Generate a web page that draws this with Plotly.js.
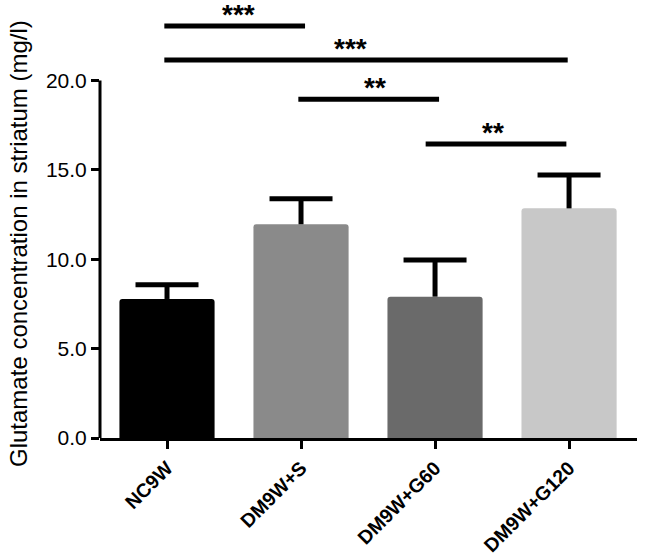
<!DOCTYPE html>
<html>
<head>
<meta charset="utf-8">
<script src="https://cdn.plot.ly/plotly-3.0.1.min.js"></script>
<style>html,body{margin:0;padding:0;background:#fff;}#chart{width:646px;height:557px;}</style>
</head>
<body>
<div id="chart"></div>
<script>
// ---- data ----
const categories = ["NC9W", "DM9W+S", "DM9W+G60", "DM9W+G120"];
const means = [7.78, 11.96, 7.91, 12.85];
const errors = [0.80, 1.43, 2.05, 1.87];
const barColors = ["#000000", "#8a8a8a", "#6a6a6a", "#c8c8c8"];
const yTickVals = [0, 5, 10, 15, 20];
const yTickText = ["0.0", "5.0", "10.0", "15.0", "20.0"];
const yTitle = "Glutamate concentration in striatum (mg/l)";
// significance brackets (x in category index units, y in data units)
const sigStart = [-0.02, -0.02, 0.98, 1.93];
const sigEnd = [1.03, 2.99, 2.03, 2.98];
const sigLevel = [23.06, 21.15, 18.95, 16.45];
const sigLabelX = [0.53, 1.37, 1.55, 2.43];
const sigLabel = ["***", "***", "**", "**"];

const idx = categories.map((c, i) => i);
const traces = [{
  type: "bar",
  x: idx,
  y: means,
  width: 0.71,
  marker: {color: barColors, line: {width: 0}, cornerradius: 3},
  hoverinfo: "skip",
  showlegend: false
}];
// error bar stems (upper only)
const stemX = [], stemY = [];
idx.forEach(i => { stemX.push(i, i, null); stemY.push(means[i], means[i] + errors[i], null); });
traces.push({
  type: "scatter", mode: "lines", x: stemX, y: stemY,
  line: {color: "#000", width: 5}, hoverinfo: "skip", showlegend: false
});
// error bar caps
traces.push({
  type: "scatter", mode: "markers", x: idx, y: means.map((m, i) => m + errors[i]),
  marker: {symbol: "line-ew", size: 45, color: "#000", line: {color: "#000", width: 5}},
  hoverinfo: "skip", showlegend: false
});
sigStart.forEach((s, k) => {
  traces.push({
    type: "scatter", mode: "lines",
    x: [s, sigEnd[k]], y: [sigLevel[k], sigLevel[k]],
    line: {color: "#000", width: 5},
    hoverinfo: "skip", showlegend: false
  });
});
const annotations = sigLabel.map((t, k) => ({
  x: sigLabelX[k], y: sigLevel[k], xref: "x", yref: "y",
  text: t, showarrow: false, xanchor: "center", yanchor: "bottom", yshift: -6,
  font: {family: "Liberation Sans, Arial, sans-serif", size: 28, color: "#000", weight: "bold"}
}));
annotations.push({
  x: -0.153, y: 0.45, xref: "paper", yref: "paper", text: yTitle, textangle: -90,
  showarrow: false, xanchor: "center", yanchor: "middle",
  font: {family: "Liberation Sans, Arial, sans-serif", size: 24, color: "#000"}
});
const layout = {
  width: 646, height: 557,
  margin: {l: 100, r: 9, t: 5, b: 119},
  paper_bgcolor: "#fff", plot_bgcolor: "#fff",
  font: {family: "Liberation Sans, Arial, sans-serif", color: "#000"},
  xaxis: {
    range: [-0.5, 3.507], tickmode: "array", tickvals: idx, ticktext: categories,
    showgrid: false, zeroline: false, showline: true, linewidth: 3, linecolor: "#000",
    ticks: "outside", ticklen: 8, tickwidth: 3, tickcolor: "#000", tickangle: -45,
    tickfont: {size: 19.5, weight: "bold", color: "#000"}
  },
  yaxis: {
    range: [0, 24.23], tickmode: "array", tickvals: yTickVals, ticktext: yTickText,
    showgrid: false, zeroline: false, showline: false,
    ticks: "outside", ticklen: 8, tickwidth: 3, tickcolor: "#000",
    tickfont: {size: 21, color: "#000", family: "Liberation Sans Narrow, Arial Narrow, Liberation Sans, sans-serif"}
  },
  shapes: [{type: "line", xref: "paper", x0: 0, x1: 0, yref: "y", y0: 0, y1: 20,
            line: {color: "#000", width: 3}}],
  annotations: annotations
};
Plotly.newPlot("chart", traces, layout, {displayModeBar: false, staticPlot: true});
</script>
</body>
</html>
